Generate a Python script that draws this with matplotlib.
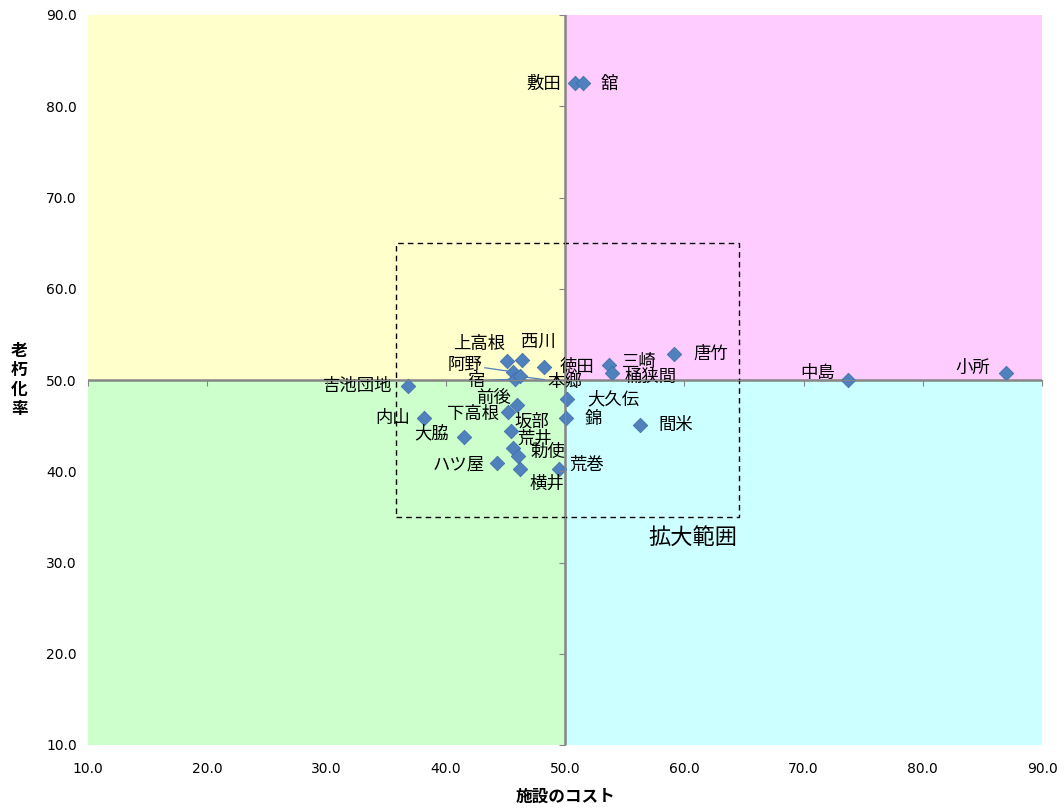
import numpy as np
import matplotlib
matplotlib.use('Agg')
import matplotlib.pyplot as plt
from matplotlib.patches import Rectangle

plt.rcParams['font.family'] = ['Noto Sans CJK JP', 'DejaVu Sans']

# data
names = ['敷田', '舘', '上高根', '西川', '阿野', '宿', '本郷', '徳田', '前後', '下高根',
         '坂部', '荒井', '勅使', '横井', '荒巻', 'ハツ屋', '大脇', '内山', '吉池団地',
         '三崎', '桶狭間', '唐竹', '大久伝', '錦', '間米', '中島', '小所']
cost = [50.8, 51.5, 45.1, 46.4, 45.6, 45.8, 46.2, 48.2, 46.0, 45.2,
        45.5, 45.6, 46.1, 46.2, 49.5, 44.3, 41.5, 38.2, 36.8,
        53.7, 53.9, 59.1, 50.2, 50.1, 56.3, 73.7, 87.0]
rate = [82.5, 82.5, 52.1, 52.2, 50.9, 50.1, 50.4, 51.4, 47.3, 46.5,
        44.4, 42.5, 41.7, 40.2, 40.2, 40.9, 43.8, 45.8, 49.3,
        51.6, 50.8, 52.8, 47.9, 45.8, 45.1, 50.0, 50.8]

ticks = np.arange(10, 91, 10)
mid = 50.0

# label offsets in pixels (dx, dy) from the marker
offsets = {
    '敷田': (-31, 0), '舘': (26, 0), '上高根': (-27, 17), '西川': (16, 18),
    '阿野': (-48, 7), '宿': (-39, -2), '本郷': (45, -6), '徳田': (33, 0),
    '前後': (-24, 7), '下高根': (-35, -2), '坂部': (20, 10), '荒井': (22, 10),
    '勅使': (29, 4), '横井': (27, -14), '荒巻': (28, 5), 'ハツ屋': (-38, -1),
    '大脇': (-32, 3), '内山': (-32, 0), '吉池団地': (-50, 0), '三崎': (30, 3),
    '桶狭間': (39, -4), '唐竹': (37, 1), '大久伝': (46, 0), '錦': (27, -1),
    '間米': (36, 0), '中島': (-30, 7), '小所': (-33, 5),
}
leaders = ['阿野', '宿', '本郷']

fig = plt.figure(figsize=(10.64, 8.10), dpi=100)
rect = [88 / 1064, 1 - 745 / 810, (1042 - 88) / 1064, (745 - 15) / 810]
ax = fig.add_axes(rect)
ax.set_xlim(10, 90)
ax.set_ylim(10, 90)

# quadrant backgrounds
ax.fill_between([10, mid], mid, 90, color='#FFFFCC', lw=0)
ax.fill_between([mid, 90], mid, 90, color='#FFCCFF', lw=0)
ax.fill_between([10, mid], 10, mid, color='#CCFFCC', lw=0)
ax.fill_between([mid, 90], 10, mid, color='#CCFFFF', lw=0)

ax.axhline(mid, color='#868686', lw=1.8, zorder=2)
ax.axvline(mid, color='#868686', lw=1.8, zorder=2)

# zoom region box
ax.add_patch(Rectangle((35.8, 35.0), 28.8, 30.0, fill=False, ls=(0, (4, 3)),
                       lw=1.0, ec='black', zorder=3))
ax.text(57.0, 32.8, '拡大範囲', fontsize=16, va='center', ha='left')

ax.scatter(cost, rate, marker='D', s=55, color='#4F81BD', edgecolors='#3C6BA5',
           linewidths=0.5, zorder=5)

for n, x, y in zip(names, cost, rate):
    dx, dy = offsets[n]
    props = None
    if n in leaders:
        props = dict(arrowstyle='-', color='#4F81BD', lw=0.9, shrinkA=0, shrinkB=3)
    ax.annotate(n, (x, y), xytext=(dx, dy), textcoords='offset pixels',
                ha='center', va='center', fontsize=12.5, arrowprops=props, zorder=6)

ax.set_xticks(ticks)
ax.set_yticks(ticks)
ax.set_xticklabels([f'{t:.1f}' for t in ticks], fontsize=10, fontfamily='DejaVu Sans')
ax.set_yticklabels([f'{t:.1f}' for t in ticks], fontsize=10, fontfamily='DejaVu Sans')
ax.tick_params(axis='x', length=0, pad=12)
ax.tick_params(axis='y', length=0, pad=8)
for s in ax.spines.values():
    s.set_visible(False)

ax.set_xlabel('施設のコスト', fontsize=12, fontweight='bold')
ax.xaxis.set_label_coords(0.5, -0.058)
ax.set_ylabel('老\n朽\n化\n率', fontsize=12, fontweight='bold', rotation=0,
              va='center', ha='center', linespacing=1.1)
ax.yaxis.set_label_coords(-0.072, 0.5)

# tick marks on the centre axes
ax2 = fig.add_axes(rect, sharex=ax, sharey=ax)
ax2.patch.set_visible(False)
ax2.spines['top'].set_visible(False)
ax2.spines['right'].set_visible(False)
ax2.spines['left'].set_position(('data', mid))
ax2.spines['bottom'].set_position(('data', mid))
ax2.spines['left'].set_color('#868686')
ax2.spines['bottom'].set_color('#868686')
ax2.tick_params(length=4, color='#868686', labelleft=False, labelbottom=False)

fig.savefig('out.png', dpi=100)
